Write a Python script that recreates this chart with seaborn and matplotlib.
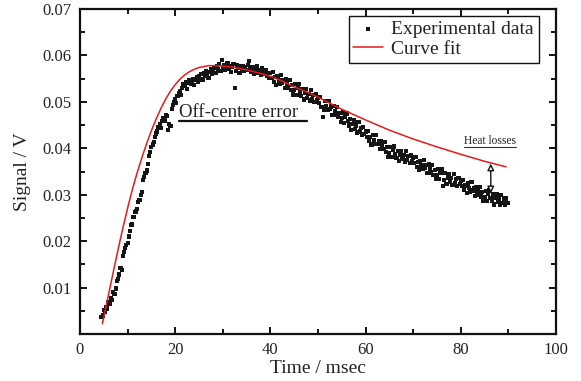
import numpy as np
import pandas as pd
import matplotlib
matplotlib.use("Agg")
import matplotlib.pyplot as plt
import seaborn as sns
from matplotlib.ticker import MultipleLocator, FixedLocator

# ---------------- data ----------------
t_start = 4.5
t_step = 0.25
signal = [
    .0036, .0040,
    # 5.00 - 9.75
    .0052, .0048, .0058, .0055, .0068, .0064, .0078, .0074, .0090, .0086,
    .0098, .0114, .0118, .0128, .0142, .0137, .0168, .0176, .0186, .0192,
    # 10.00 - 14.75
    .0196, .0210, .0222, .0234, .0236, .0252, .0262, .0264, .0270, .0284,
    .0288, .0300, .0306, .0332, .0338, .0346, .0352, .0366, .0384, .0392,
    # 15.00 - 19.75
    .0402, .0408, .0414, .0424, .0432, .0436, .0446, .0452, .0444, .0458,
    .0466, .0460, .0472, .0470, .0440, .0452, .0448, .0484, .0494, .0500,
    # 20.00 - 24.75
    .0506, .0498, .0512, .0518, .0524, .0514, .0530, .0538, .0534, .0542,
    .0528, .0540, .0546, .0538, .0544, .0550, .0536, .0548, .0554, .0542,
    # 25.00 - 29.75
    .0556, .0550, .0560, .0548, .0562, .0555, .0566, .0558, .0552, .0564,
    .0570, .0560, .0568, .0574, .0562, .0578, .0570, .0582, .0566, .0590,
    # 30.00 - 34.75
    .0574, .0580, .0568, .0576, .0584, .0570, .0578, .0564, .0576, .0582,
    .0530, .0566, .0580, .0574, .0562, .0576, .0570, .0578, .0566, .0574,
    # 35.00 - 39.75
    .0568, .0580, .0588, .0570, .0564, .0574, .0560, .0570, .0566, .0576,
    .0562, .0568, .0558, .0572, .0564, .0560, .0568, .0556, .0562, .0552,
    # 40.00 - 44.75
    .0562, .0551, .0564, .0543, .0553, .0537, .0556, .0546, .0539, .0558,
    .0540, .0547, .0529, .0548, .0538, .0531, .0547, .0526, .0536, .0516,
    # 45.00 - 49.75
    .0525, .0538, .0515, .0530, .0538, .0521, .0513, .0528, .0505, .0519,
    .0527, .0509, .0517, .0503, .0526, .0506, .0514, .0499, .0517, .0503,
    # 50.00 - 54.75
    .0509, .0497, .0511, .0489, .0468, .0482, .0501, .0491, .0483, .0502,
    .0484, .0490, .0472, .0491, .0480, .0472, .0489, .0467, .0476, .0457,
    # 55.00 - 59.75
    .0465, .0477, .0454, .0468, .0475, .0458, .0449, .0463, .0440, .0453,
    .0460, .0442, .0449, .0434, .0457, .0436, .0444, .0428, .0445, .0431,
    # 60.00 - 64.75
    .0436, .0424, .0438, .0416, .0425, .0408, .0428, .0417, .0409, .0428,
    .0410, .0416, .0398, .0416, .0406, .0398, .0414, .0392, .0402, .0382,
    # 65.00 - 69.75
    .0390, .0403, .0381, .0396, .0404, .0387, .0379, .0394, .0372, .0386,
    .0394, .0377, .0385, .0371, .0395, .0375, .0383, .0368, .0386, .0373,
    # 70.00 - 74.75
    .0379, .0368, .0381, .0360, .0370, .0354, .0373, .0363, .0356, .0375,
    .0357, .0364, .0346, .0365, .0355, .0348, .0364, .0343, .0353, .0333,
    # 75.00 - 79.75
    .0342, .0355, .0333, .0347, .0355, .0318, .0331, .0346, .0323, .0337,
    .0345, .0328, .0336, .0321, .0345, .0325, .0334, .0319, .0336, .0323,
    # 80.00 - 84.75
    .0329, .0318, .0332, .0311, .0320, .0304, .0324, .0314, .0307, .0327,
    .0309, .0315, .0298, .0317, .0307, .0300, .0317, .0296, .0305, .0286,
    # 85.00 - 89.75
    .0295, .0308, .0286, .0301, .0309, .0293, .0286, .0301, .0279, .0293,
    .0301, .0284, .0292, .0278, .0299, .0283, .0292, .0277, .0292, .0282,
    # 90.00
    .0282,
]
time = t_start + t_step * np.arange(len(signal))

fit_time = [4.7, 5, 6, 7, 8, 9, 10, 11, 12, 13, 14, 15, 16, 17, 18, 19, 20,
            21, 22, 23, 24, 25, 26, 27, 28, 29, 30, 32, 35, 38, 40, 42, 44,
            46, 48, 50, 55, 60, 65, 70, 75, 80, 85, 89.5]
fit_signal = [.0022, .0036, .0085, .0134, .0182, .0228, .0271, .0311, .0347,
              .0380, .0410, .0438, .0463, .0486, .0506, .0523, .0537, .0549,
              .0558, .0565, .0570, .0574, .0576, .0578, .0578, .0578, .0577,
              .0575, .0569, .0561, .0555, .0547, .0537, .0528, .0520, .0510,
              .0484, .0461, .0439, .0420, .0403, .0387, .0372, .0360]

x_ticks = [0, 20, 40, 60, 80, 100]
y_ticks = [0.01, 0.02, 0.03, 0.04, 0.05, 0.06, 0.07]
y_tick_labels = ["0.01", "0.02", "0.03", "0.04", "0.05", "0.06", "0.07"]

data_df = pd.DataFrame({"Time": time, "Signal": signal})
fit_df = pd.DataFrame({"Time": fit_time, "Signal": fit_signal})

# ---------------- plotting ----------------
sns.set_theme(style="ticks")
plt.rcParams["font.family"] = ["Liberation Serif", "DejaVu Serif"]

fig = plt.figure(figsize=(5.81, 3.81), dpi=100)
ax = fig.add_axes([80 / 581, 47 / 381, 476 / 581, 325 / 381])

sns.scatterplot(data=data_df, x="Time", y="Signal", ax=ax, marker="s",
                s=9, color="#151515", edgecolor="none", linewidth=0,
                label="Experimental data", zorder=3)
sns.lineplot(data=fit_df, x="Time", y="Signal", ax=ax, color="#e8191c",
             linewidth=1.1, label="Curve fit", zorder=4, estimator=None,
             sort=False)

ax.set_xlim(0, 100)
ax.set_ylim(0, 0.07)
ax.xaxis.set_major_locator(FixedLocator(x_ticks))
ax.xaxis.set_minor_locator(MultipleLocator(10))
ax.yaxis.set_major_locator(FixedLocator(y_ticks))
ax.set_yticklabels(y_tick_labels)
ax.yaxis.set_minor_locator(MultipleLocator(0.005))

ax.tick_params(which="both", direction="in", top=True, right=True,
               color="black", width=1.3, labelsize=12, labelcolor="#222222",
               pad=6)
ax.tick_params(which="major", length=5)
ax.tick_params(which="minor", length=3.5)
for sp in ax.spines.values():
    sp.set_visible(True)
    sp.set_linewidth(1.6)
    sp.set_color("#111111")

ax.set_xlabel("Time / msec", fontsize=14, color="#222222", labelpad=1)
ax.set_ylabel("Signal / V", fontsize=14, color="#222222", labelpad=8)

# annotations
ax.text(20.9, 0.0467, "Off-centre error", fontsize=13.5, color="#222222",
        ha="left", va="baseline")
ax.plot([20.8, 47.6], [0.04587, 0.04587], color="#111111", lw=1.6)

ax.text(80.7, 0.0409, "Heat losses", fontsize=8.3, color="#222222",
        ha="left", va="baseline")
ax.plot([80.6, 91.6], [0.04025, 0.04025], color="#333333", lw=0.8)
ax.annotate("", xy=(86.3, 0.0367), xytext=(86.3, 0.0303),
            arrowprops=dict(arrowstyle="<|-|>", color="#111111", lw=1.0,
                            fc="white", mutation_scale=10, shrinkA=0,
                            shrinkB=0),
            zorder=6)

leg = ax.legend(loc="upper right", bbox_to_anchor=(0.964, 0.979),
                borderaxespad=0, fontsize=14, frameon=True, fancybox=False,
                handlelength=1.5, handletextpad=0.45, borderpad=0.25,
                labelspacing=0.1, markerscale=1.1)
leg.get_frame().set_edgecolor("#111111")
leg.get_frame().set_linewidth(1.0)
leg.get_frame().set_alpha(1)
for txt in leg.get_texts():
    txt.set_color("#222222")

fig.savefig("out.png", dpi=100)
